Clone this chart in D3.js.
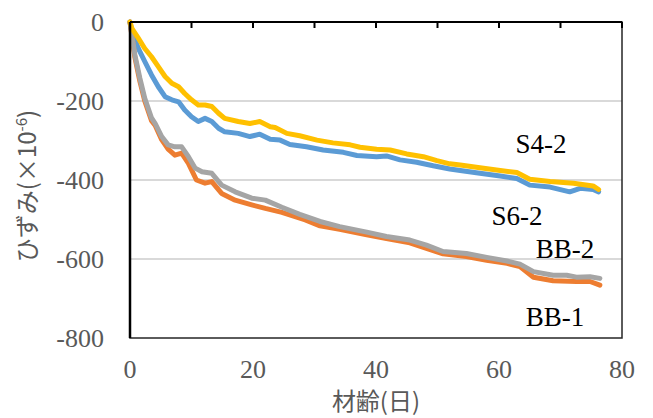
<!DOCTYPE html>
<html>
<head>
<meta charset="utf-8">
<script src="https://cdn.jsdelivr.net/npm/d3@7"></script>
<style>
    body { margin: 0; background: #fff; }
    .tick-label { font-family: "Liberation Serif", "Times New Roman", "DejaVu Serif", serif; font-size: 26px; fill: #595959; }
    .series-label { font-family: "Liberation Serif", "Times New Roman", "DejaVu Serif", serif; font-size: 27px; fill: #000; }
    .axis-title { font-family: "Noto Sans CJK JP", sans-serif; font-size: 24px; fill: #595959; }
</style>
</head>
<body>
<div id="scene"></div>
<script>
// S6-2 (blue)
const s62Days = [0, 0.3, 1.35, 2.4, 3.5, 4.6, 5.7, 6.8, 7.9, 8.9, 10, 11.1, 12.2, 13.3, 14.4, 15.4, 17.6, 19.5, 21.1, 22.8, 24.4, 26, 28.7, 31.4, 34.7, 36.9, 40.1, 41.7, 43.9, 46.6, 49.3, 52, 53.7, 56.9, 60.2, 62.9, 65, 68.3, 71.5, 73.2, 75.3, 76.2];
const s62Values = [0, -25, -67, -100, -134, -164, -189, -197, -202, -223, -240, -252, -244, -252, -269, -278, -282, -290, -284, -297, -299, -310, -316, -324, -330, -338, -341, -339, -349, -355, -364, -372, -376, -383, -390, -396, -413, -418, -430, -421, -424, -430];

// BB-1 (orange)
const bb1Days = [0, 0.8, 1.6, 2.4, 3.5, 4.1, 5.15, 6.2, 7.3, 8.4, 9.5, 10.8, 12.2, 13.3, 14.9, 17.1, 19.8, 22, 24.7, 28.5, 30.9, 34.1, 38.5, 41.7, 45.5, 48.2, 50.9, 54.7, 58, 61.3, 63.4, 65.6, 68.8, 72.6, 74.8, 76.4];
const bb1Values = [0, -90, -150, -200, -250, -262, -298, -322, -337, -332, -358, -400, -408, -404, -434, -451, -463, -472, -482, -501, -516, -525, -539, -548, -559, -573, -587, -594, -603, -611, -619, -646, -655, -657, -657, -666];

// BB-2 (gray)
const bb2Days = [0, 0.8, 1.6, 2.4, 3.5, 4.1, 5.15, 6.2, 7.3, 8.4, 9.5, 10.6, 11.7, 13.3, 14.9, 17.1, 19.8, 22, 24.7, 27.6, 30.9, 34.1, 38.5, 41.7, 45.5, 48.2, 50.9, 54.7, 58, 61.3, 63.4, 65.6, 68.8, 71, 72.6, 74.8, 76.4];
const bb2Values = [0, -84, -142, -193, -243, -257, -290, -311, -316, -316, -341, -370, -379, -383, -413, -430, -446, -451, -469, -487, -505, -518, -532, -543, -552, -565, -581, -586, -596, -605, -613, -632, -641, -641, -646, -645, -649];

// S4-2 (yellow)
const s42Days = [0, 0.3, 1.35, 2.4, 3.5, 4.6, 5.7, 6.8, 7.9, 8.9, 10, 11.1, 12.2, 13.3, 14.4, 15.4, 17.6, 19.5, 21.1, 22.8, 23.6, 25.5, 27.6, 30.4, 33, 35.8, 37.4, 40.1, 42.3, 45, 47.7, 49.9, 52, 53.7, 56.9, 60.2, 62.9, 65, 68.3, 72.1, 75.3, 76.2];
const s42Values = [0, -16, -41, -67, -88, -113, -138, -155, -164, -181, -197, -210, -210, -214, -231, -244, -252, -257, -252, -265, -267, -282, -288, -299, -306, -311, -317, -322, -324, -334, -341, -351, -359, -362, -369, -376, -381, -398, -404, -408, -415, -424];

const xTicks = [0, 20, 40, 60, 80];
const xMinorTicks = [0, 10, 20, 30, 40, 50, 60, 70, 80];
const yTicks = [0, -200, -400, -600, -800];
const gridValues = [-200, -400, -600];

const seriesNames = ['S6-2', 'BB-1', 'BB-2', 'S4-2'];
const seriesDays = [s62Days, bb1Days, bb2Days, s42Days];
const seriesValues = [s62Values, bb1Values, bb2Values, s42Values];
const seriesColors = ['#5b9bd5', '#ed7d31', '#a5a5a5', '#ffc000'];

const width = 653;
const height = 418;
const plotLeft = 130, plotRight = 622, plotTop = 22, plotBottom = 338;

const xScale = d3.scaleLinear().domain([0, 80]).range([plotLeft, plotRight]);
const yScale = d3.scaleLinear().domain([0, -800]).range([plotTop, plotBottom]);

const svg = d3.select('#scene')
    .append('svg')
    .attr('width', width)
    .attr('height', height);

// gridlines
svg.selectAll('.grid')
    .data(gridValues)
    .enter().append('line')
    .attr('class', 'grid')
    .attr('x1', plotLeft)
    .attr('x2', plotRight)
    .attr('y1', d => yScale(d))
    .attr('y2', d => yScale(d))
    .attr('stroke', '#d9d9d9')
    .attr('stroke-width', 2);

// plot area border
svg.append('rect')
    .attr('x', plotLeft)
    .attr('y', plotTop)
    .attr('width', plotRight - plotLeft)
    .attr('height', plotBottom - plotTop)
    .attr('fill', 'none')
    .attr('stroke', '#262626')
    .attr('stroke-width', 1.5);

const line = d3.line()
    .x(d => xScale(d.x))
    .y(d => yScale(d.y));

seriesNames.forEach((name, idx) => {
    const pathData = seriesDays[idx].map((day, i) => ({ x: day, y: seriesValues[idx][i] }));
    svg.append('path')
        .datum(pathData)
        .attr('d', line)
        .attr('fill', 'none')
        .attr('stroke', seriesColors[idx])
        .attr('stroke-width', 5)
        .attr('stroke-linejoin', 'round')
        .attr('stroke-linecap', 'round');
});

// axis lines (x axis crosses at 0, on top)
svg.append('line')
    .attr('x1', plotLeft).attr('x2', plotRight)
    .attr('y1', yScale(0)).attr('y2', yScale(0))
    .attr('stroke', '#000').attr('stroke-width', 2);

svg.append('line')
    .attr('x1', plotLeft).attr('x2', plotLeft)
    .attr('y1', plotTop).attr('y2', plotBottom)
    .attr('stroke', '#000').attr('stroke-width', 2.5);

svg.selectAll('.xTicks')
    .data(xMinorTicks)
    .enter().append('line')
    .attr('class', 'xTicks')
    .attr('x1', d => xScale(d))
    .attr('x2', d => xScale(d))
    .attr('y1', yScale(0))
    .attr('y2', yScale(0) + 6)
    .attr('stroke', '#000')
    .attr('stroke-width', 2);

svg.selectAll('.xLabel')
    .data(xTicks)
    .enter().append('text')
    .attr('class', 'tick-label')
    .attr('x', d => xScale(d))
    .attr('y', 378)
    .attr('text-anchor', 'middle')
    .text(String);

svg.selectAll('.yLabel')
    .data(yTicks)
    .enter().append('text')
    .attr('class', 'tick-label')
    .attr('x', 104)
    .attr('y', d => yScale(d) + 9)
    .attr('text-anchor', 'end')
    .text(String);

svg.append('text')
    .attr('class', 'axis-title')
    .attr('x', xScale(40))
    .attr('y', 410)
    .attr('font-size', '23px')
    .attr('text-anchor', 'middle')
    .text('材齢(日)');

const yTitle = svg.append('text')
    .attr('class', 'axis-title')
    .attr('text-anchor', 'middle')
    .attr('transform', 'translate(36,' + 186 + ') rotate(-90)');
yTitle.append('tspan').text('ひずみ(×10');
yTitle.append('tspan').attr('font-size', '15px').attr('dy', -9).text('-6');
yTitle.append('tspan').attr('dy', 9).text(')');

// series labels
const labelPos = [
    { name: 'S4-2', x: 541, y: 153 },
    { name: 'S6-2', x: 517, y: 225 },
    { name: 'BB-2', x: 565, y: 258 },
    { name: 'BB-1', x: 555, y: 326 },
];
svg.selectAll('.series-label')
    .data(labelPos)
    .enter().append('text')
    .attr('class', 'series-label')
    .attr('x', d => d.x)
    .attr('y', d => d.y)
    .attr('text-anchor', 'middle')
    .text(d => d.name);
</script>
</body>
</html>
